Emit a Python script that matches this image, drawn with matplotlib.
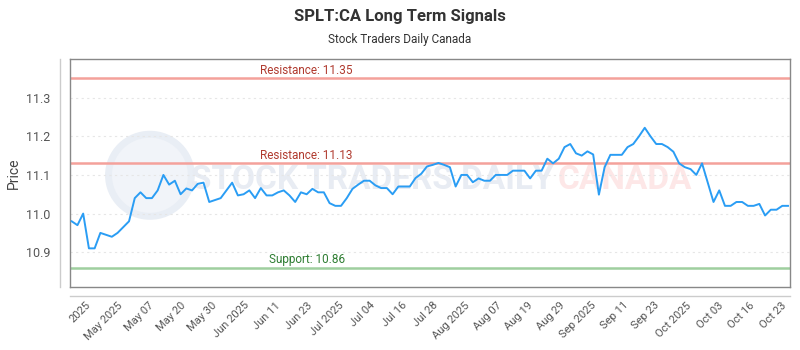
import matplotlib
matplotlib.use('Agg')
import matplotlib.pyplot as plt
from matplotlib.patches import Ellipse
from matplotlib.lines import Line2D
import numpy as np

# ========== data ==========

prices = [
    10.98, 10.97, 11.00, 10.91, 10.91, 10.95, 10.945, 10.94, 10.95, 10.965,
    10.98, 11.04, 11.055, 11.04, 11.04, 11.06, 11.10, 11.075, 11.085, 11.05,
    11.065, 11.06, 11.077, 11.08, 11.03, 11.035, 11.04, 11.06, 11.08, 11.047,
    11.05, 11.06, 11.04, 11.066, 11.047, 11.047, 11.055, 11.06, 11.047, 11.03,
    11.055, 11.05, 11.064, 11.055, 11.055, 11.027, 11.02, 11.02, 11.04, 11.064,
    11.075, 11.085, 11.085, 11.073, 11.066, 11.066, 11.05, 11.07, 11.07, 11.07,
    11.092, 11.103, 11.122, 11.126, 11.131, 11.126, 11.12, 11.07, 11.10, 11.10,
    11.081, 11.091, 11.085, 11.085, 11.10, 11.10, 11.10, 11.111, 11.111, 11.111,
    11.091, 11.111, 11.111, 11.142, 11.13, 11.142, 11.172, 11.18, 11.156, 11.15,
    11.161, 11.153, 11.049, 11.12, 11.152, 11.152, 11.152, 11.172, 11.18, 11.20,
    11.222, 11.20, 11.18, 11.18, 11.172, 11.16, 11.13, 11.12, 11.115, 11.10,
    11.13, 11.08, 11.03, 11.06, 11.02, 11.02, 11.03, 11.03, 11.02, 11.02,
    11.025, 10.995, 11.01, 11.01, 11.02, 11.02,
]

tick_labels = ['2025', 'May 2025', 'May 07', 'May 20', 'May 30', 'Jun 2025',
               'Jun 11', 'Jun 23', 'Jul 2025', 'Jul 04', 'Jul 16', 'Jul 28',
               'Aug 2025', 'Aug 07', 'Aug 19', 'Aug 29', 'Sep 2025', 'Sep 11',
               'Sep 23', 'Oct 2025', 'Oct 03', 'Oct 16', 'Oct 23']

resistance_levels = [11.35, 11.13]
support_levels = [10.86]
y_ticks = [10.9, 11.0, 11.1, 11.2, 11.3]

# ========== style ==========

plt.rcParams.update({
    'font.family': ['Roboto', 'DejaVu Sans'],
    'font.size': 9,
})

fig = plt.figure(figsize=(8, 3.5), dpi=100)
ax = fig.add_axes([70 / 800, 1 - 287 / 350, 720 / 800, 228 / 350])

x = np.arange(len(prices))

# watermark
ax.add_patch(Ellipse((0.111, 0.49), 0.115, 0.36, transform=ax.transAxes,
                     facecolor='#f1f4f9', edgecolor='#e9eef5', lw=5, zorder=0))
ax.text(0.42, 0.47, 'STOCK TRADERS DAILY', transform=ax.transAxes, ha='center',
        va='center', fontsize=24, fontweight='bold', color='#e8ecf3', zorder=0)
ax.text(0.77, 0.47, 'CANADA', transform=ax.transAxes, ha='center',
        va='center', fontsize=24, fontweight='bold', color='#fde7e7', zorder=0)

# grid
for yt in y_ticks:
    ax.axhline(yt, color='#e6e6e6', lw=0.8, ls=(0, (2, 3)), zorder=1)

# signal lines
label_x = 41
for lvl in resistance_levels:
    ax.axhline(lvl, color='#f4a19b', lw=1.8, zorder=2)
    ax.text(label_x, lvl + 0.004, f'Resistance: {lvl:.2f}', ha='center',
            va='bottom', fontsize=8.5, color='#b03a2e', zorder=3)
for lvl in support_levels:
    ax.axhline(lvl, color='#9fcf9f', lw=1.8, zorder=2)
    ax.text(label_x, lvl + 0.004, f'Support: {lvl:.2f}', ha='center',
            va='bottom', fontsize=8.5, color='#2e7d32', zorder=3)

# price line
ax.plot(x, prices, color='#2a9df4', lw=1.4, zorder=4)

ax.set_xlim(-0.3, 125.35)
ax.set_ylim(10.81, 11.40)
ax.set_yticks(y_ticks)
ax.set_yticklabels([f'{v:.1f}' for v in y_ticks], color='#555555', fontsize=9)
ax.tick_params(axis='y', length=0, pad=14)

tick_pos = np.linspace(3.0, 124.4, len(tick_labels))
ax.set_xticks(tick_pos)
ax.set_xticklabels(tick_labels, rotation=45, ha='right', va='center',
                   rotation_mode='anchor', color='#555555', fontsize=8)
ax.tick_params(axis='x', length=0, pad=12)

for sp in ax.spines.values():
    sp.set_color('#888888')
    sp.set_linewidth(1)

ax.set_ylabel('Price', fontsize=10, color='#444444', labelpad=4)

# offset axis lines
fig.add_artist(Line2D([60 / 800, 60 / 800], [1 - 287 / 350, 1 - 59 / 350],
                      transform=fig.transFigure, color='#cccccc', lw=1))
fig.add_artist(Line2D([70 / 800, 790 / 800], [1 - 296 / 350, 1 - 296 / 350],
                      transform=fig.transFigure, color='#cccccc', lw=1))

fig.text(0.5, 1 - 16 / 350, 'SPLT:CA Long Term Signals', ha='center', va='center',
         fontsize=12, fontweight='bold', color='#333333')
fig.text(0.5, 1 - 40 / 350, 'Stock Traders Daily Canada', ha='center', va='center',
         fontsize=8.5, color='#333333')

fig.savefig('out.png', dpi=100)
